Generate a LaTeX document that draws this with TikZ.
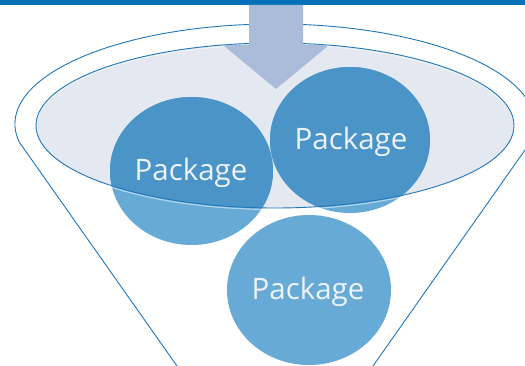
\documentclass[tikz,border=0pt]{standalone}
\usepackage{fontspec}
\setmainfont{Open Sans}
\definecolor{barblue}{HTML}{0070B8}
\definecolor{lineblue}{HTML}{1F77BB}
\definecolor{bowl}{HTML}{E3E8F1}
\definecolor{pkglight}{HTML}{66AAD5}
\definecolor{pkgdark}{HTML}{4A94C8}
\definecolor{arrowc}{HTML}{AABCDA}
\definecolor{txt}{HTML}{EEF3F9}
\begin{document}
\begin{tikzpicture}[x=1pt,y=-1pt,
  funnel/.style={draw=lineblue, line width=0.9pt},
  pkgtext/.style={text=txt, font=\fontsize{29.5}{29.5}\selectfont, anchor=base, inner sep=0pt}]
\useasboundingbox (0,0) rectangle (525,366);
\fill[white] (0,0) rectangle (525,366);
% top bar
\fill[barblue] (0,0) rectangle (525,5);
% outer funnel
\draw[funnel] (177,366) -- (19.2,142) arc[start angle=169.6, end angle=370.4, x radius=260, y radius=100] -- (373,366);
% bowl fill
\fill[bowl] (275,125.5) ellipse[x radius=239, y radius=82.5];
% packages (light)
\fill[pkglight] (191.5,171) ellipse[x radius=81.5, y radius=74];
\fill[pkglight] (350,140) ellipse[x radius=80, y radius=73];
\fill[pkglight] (309,290) ellipse[x radius=82, y radius=75];
% packages inside the bowl (darker)
\begin{scope}
  \clip (275,125.5) ellipse[x radius=239, y radius=82.5];
  \fill[pkgdark] (191.5,171) ellipse[x radius=81.5, y radius=74];
  \fill[pkgdark] (350,140) ellipse[x radius=80, y radius=73];
\end{scope}
% bowl rim
\draw[white, opacity=0.5, line width=1.2pt] (275,127) ellipse[x radius=239, y radius=82.5];
\draw[funnel] (275,125.5) ellipse[x radius=239, y radius=82.5];
% arrow
\fill[arrowc] (249,5) -- (303,5) -- (303,45) -- (329,45) -- (276,89) -- (223,45) -- (249,45) -- cycle;
% labels
\node[pkgtext] (p1) at (191,181) {Package};
\node[pkgtext] (p2) at (351,150) {Package};
\node[pkgtext] (p3) at (308,299) {Package};
\end{tikzpicture}
\end{document}
